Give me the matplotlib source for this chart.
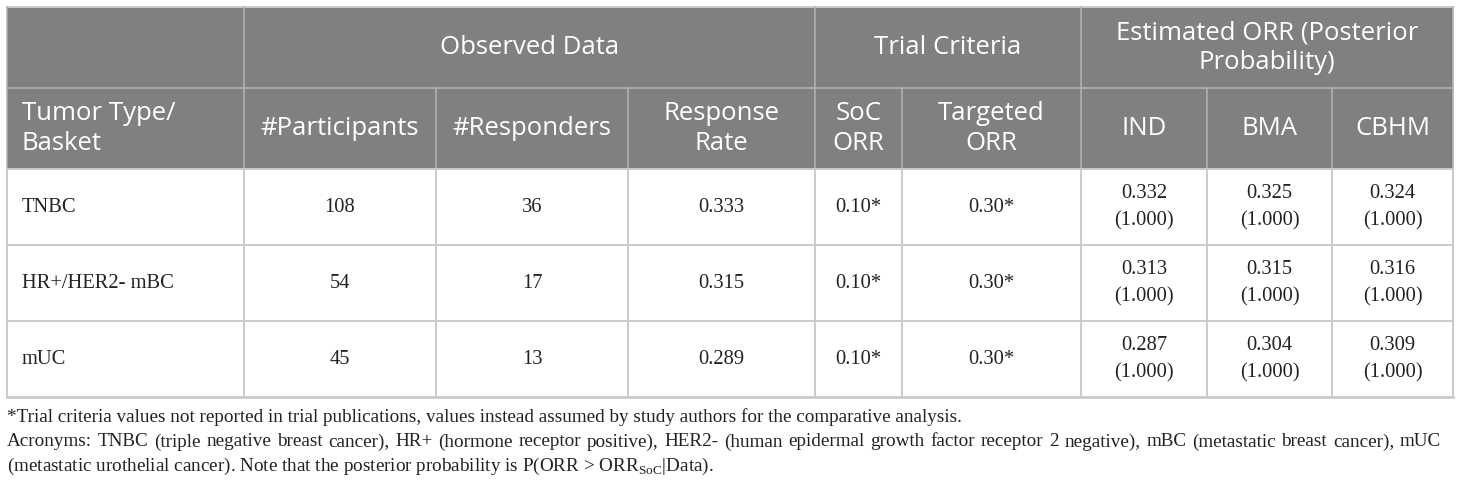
import matplotlib
matplotlib.use("Agg")
import matplotlib.pyplot as plt
from matplotlib.patches import Rectangle

# table data
baskets = ["TNBC", "HR+/HER2- mBC", "mUC"]
participants = [108, 54, 45]
responders = [36, 17, 13]
response_rate = [0.333, 0.315, 0.289]
soc_orr = [0.10, 0.10, 0.10]
targeted_orr = [0.30, 0.30, 0.30]
ind_orr = [0.332, 0.313, 0.287]
bma_orr = [0.325, 0.315, 0.304]
cbhm_orr = [0.324, 0.316, 0.309]
ind_pp = [1.000, 1.000, 1.000]
bma_pp = [1.000, 1.000, 1.000]
cbhm_pp = [1.000, 1.000, 1.000]

group_labels = ["Observed Data", "Trial Criteria", "Estimated ORR (Posterior\nProbability)"]
col_labels = ["Tumor Type/\nBasket", "#Participants", "#Responders", "Response\nRate",
              "SoC\nORR", "Targeted\nORR", "IND", "BMA", "CBHM"]

footnote1 = ("*Trial criteria values not reported in trial publications, values instead "
             "assumed by study authors for the comparative analysis.")
footnote2 = ("Acronyms: TNBC (triple negative breast cancer), HR+ (hormone receptor positive), "
             "HER2- (human epidermal growth factor receptor 2 negative), mBC (metastatic breast "
             "cancer), mUC")
footnote3 = r"(metastatic urothelial cancer). Note that the posterior probability is P(ORR > ORR$_{\mathrm{SoC}}$|Data)."

# layout (pixels)
col_edges = [7, 244, 436, 628, 815, 902, 1081, 1207, 1332, 1453]
row_edges = [7, 88, 169, 245, 321, 397]
group_spans = [(1, 4), (4, 6), (6, 9)]

plt.rcParams["mathtext.fontset"] = "custom"
plt.rcParams["mathtext.rm"] = "Liberation Serif"

HEAD_BG = "#808080"
HEAD_LINE = "#b2b2b2"
GRID = "#cacaca"
TXT = "#222222"
sans = "Open Sans"
serif = "Liberation Serif"
HFS = 18.5   # header font size
BFS = 14.8   # body font size

fig = plt.figure(figsize=(14.6, 4.84), dpi=100)
ax = fig.add_axes([0, 0, 1, 1])
ax.set_xlim(0, 1460)
ax.set_ylim(484, 0)
ax.axis("off")

x0, x1 = col_edges[0], col_edges[-1]

# header background
ax.add_patch(Rectangle((x0, row_edges[0]), x1 - x0, row_edges[2] - row_edges[0],
                       facecolor=HEAD_BG, edgecolor="none"))

# horizontal lines
ax.plot([x0, x1], [row_edges[0], row_edges[0]], color=GRID, lw=1.4)
ax.plot([x0, x1], [row_edges[1], row_edges[1]], color=HEAD_LINE, lw=1.1)
for y in row_edges[2:-1]:
    ax.plot([x0, x1], [y, y], color=GRID, lw=1.4)
ax.plot([x0, x1], [row_edges[-1], row_edges[-1]], color=GRID, lw=2.0)

# vertical lines
major = {col_edges[0], col_edges[-1]} | {col_edges[s] for s, e in group_spans}
for x in col_edges:
    top = row_edges[0] if x in major else row_edges[1]
    ax.plot([x, x], [top, row_edges[2]], color=HEAD_LINE, lw=1.1)
    ax.plot([x, x], [row_edges[2], row_edges[-1]], color=GRID, lw=1.4)

# group header text
ymid1 = (row_edges[0] + row_edges[1]) / 2
for lab, (s, e) in zip(group_labels, group_spans):
    ax.text((col_edges[s] + col_edges[e]) / 2, ymid1, lab, ha="center", va="center",
            color="white", fontsize=HFS, family=sans, linespacing=1.25)

# column header text
ymid2 = (row_edges[1] + row_edges[2]) / 2
for i, lab in enumerate(col_labels):
    if i == 0:
        ax.text(col_edges[0] + 15, ymid2, lab, ha="left", va="center",
                color="white", fontsize=HFS, family=sans, linespacing=1.25)
    else:
        ax.text((col_edges[i] + col_edges[i + 1]) / 2, ymid2, lab, ha="center", va="center",
                color="white", fontsize=HFS, family=sans, linespacing=1.25)

# body
for r in range(len(baskets)):
    yc = (row_edges[r + 2] + row_edges[r + 3]) / 2
    cells = [
        f"{participants[r]}",
        f"{responders[r]}",
        f"{response_rate[r]:.3f}",
        f"{soc_orr[r]:.2f}*",
        f"{targeted_orr[r]:.2f}*",
        f"{ind_orr[r]:.3f}\n({ind_pp[r]:.3f})",
        f"{bma_orr[r]:.3f}\n({bma_pp[r]:.3f})",
        f"{cbhm_orr[r]:.3f}\n({cbhm_pp[r]:.3f})",
    ]
    ax.text(col_edges[0] + 15, yc, baskets[r], ha="left", va="center",
            color=TXT, fontsize=BFS, family=serif)
    for c, s in enumerate(cells):
        ax.text((col_edges[c + 1] + col_edges[c + 2]) / 2, yc, s, ha="center", va="center",
                color=TXT, fontsize=BFS, family=serif, linespacing=1.55)

# footnotes, sized so first line ends where the reference does
renderer = fig.canvas.get_renderer()
probe = ax.text(0, 0, footnote1, fontsize=12, family=serif)
w = probe.get_window_extent(renderer).width
probe.remove()
fs = 12 * (961 - x0) / w

ax.text(x0, 422, footnote1, ha="left", va="baseline", fontsize=fs, family=serif, color=TXT)

# second line is justified
words = footnote2.split(" ")
objs = [ax.text(0, 446.5, wd, ha="left", va="baseline", fontsize=fs, family=serif, color=TXT)
        for wd in words]
widths = [o.get_window_extent(renderer).width for o in objs]
gap = (1441 - x0 - sum(widths)) / (len(words) - 1)
xpos = x0
for o, wd in zip(objs, widths):
    o.set_x(xpos)
    xpos += wd + gap

ax.text(x0, 471, footnote3, ha="left", va="baseline", fontsize=fs, family=serif, color=TXT)

fig.savefig("out.png", dpi=100)
